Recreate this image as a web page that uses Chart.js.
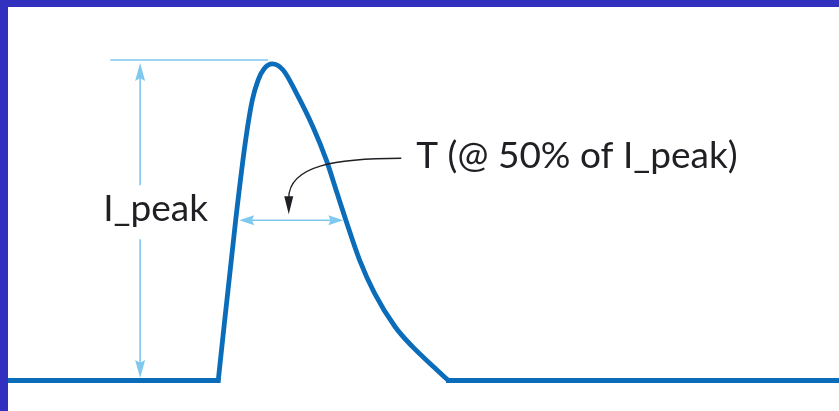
<!DOCTYPE html>
<html>
<head>
<meta charset="utf-8">
<script src="https://cdn.jsdelivr.net/npm/chart.js@4/dist/chart.umd.min.js"></script>
<style>
  html, body { margin: 0; padding: 0; background: #fff; }
  #frame { width: 831px; height: 404px; border-left: 8px solid #3230be; border-top: 7px solid #3230be; }
  canvas { display: block; }
</style>
</head>
<body>
<div id="frame"><canvas id="pulse_chart" width="831" height="404"></canvas></div>
<script>
// pulse shape, time in % of window, current in % of I_peak
const pulseT = [25.3, 27.4, 28.6, 29.4, 30.1, 30.8, 31.8, 33.1, 34.7, 36.7, 38.3, 39.6, 40.65, 42.3, 44.1, 46.6, 48.7, 51.1, 53.0];
const pulseI = [0, 50.7, 76.0, 88.6, 94.9, 98.4, 100, 98.1, 90.8, 80.1, 69.7, 59.2, 50.7, 38.1, 27.6, 16.9, 10.6, 4.6, 0];
const preT = [0, 25.3];
const postT = [53.0, 100];
const baseI = [0, 0];

// annotation values
const peakLevel = 100;
const halfT = [27.4, 40.65];
const labels = ['I_peak', 'T (@ 50% of I_peak)'];

const BLUE = '#0b6db9';
const LIGHT = '#7fc8ee';
const INK = '#1f1f24';

const toPoints = (xs, ys) => xs.map((t, i) => ({ x: t, y: ys[i] }));

const head = (ctx, x, y, angle, len, wid) => {
  ctx.save();
  ctx.translate(x, y);
  ctx.rotate(angle);
  ctx.beginPath();
  ctx.moveTo(0, 0);
  ctx.lineTo(-len, wid / 2);
  ctx.lineTo(-len * 0.85, 0);
  ctx.lineTo(-len, -wid / 2);
  ctx.closePath();
  ctx.fill();
  ctx.restore();
};

const annotations = {
  id: 'annotations',
  afterDatasetsDraw(chart) {
    const { ctx, scales: { x, y } } = chart;
    const yPeak = y.getPixelForValue(peakLevel);
    const yBase = y.getPixelForValue(0);
    const yHalf = y.getPixelForValue(peakLevel / 2) - 2;
    const xDim = x.getPixelForValue(15.9);
    const xL = x.getPixelForValue(halfT[0]) + 3.5;
    const xR = x.getPixelForValue(halfT[1]) - 2.5;

    ctx.save();
    ctx.strokeStyle = LIGHT;
    ctx.fillStyle = LIGHT;
    ctx.lineWidth = 1.6;

    // I_peak extension line + dimension arrow
    ctx.beginPath();
    ctx.moveTo(x.getPixelForValue(12.3), yPeak - 4);
    ctx.lineTo(x.getPixelForValue(31.3), yPeak - 4);
    ctx.moveTo(xDim, yPeak + 10);
    ctx.lineTo(xDim, yHalf - 35);
    ctx.moveTo(xDim, yHalf + 19);
    ctx.lineTo(xDim, yBase - 12);
    ctx.stroke();
    head(ctx, xDim, yPeak - 1, -Math.PI / 2, 18, 10);
    head(ctx, xDim, yBase - 2.5, Math.PI / 2, 18, 10);

    // T width arrow
    ctx.beginPath();
    ctx.moveTo(xL + 8, yHalf);
    ctx.lineTo(xR - 8, yHalf);
    ctx.stroke();
    head(ctx, xL, yHalf, Math.PI, 15, 10);
    head(ctx, xR, yHalf, 0, 15, 10);

    // pointer to T arrow
    const tipX = (xL + xR) / 2 - 2.5;
    const tipY = yHalf - 6;
    const sx = xR + 58;
    const sy = yHalf - 62;
    ctx.strokeStyle = INK;
    ctx.fillStyle = INK;
    ctx.lineWidth = 1.3;
    ctx.beginPath();
    ctx.moveTo(sx, sy);
    ctx.bezierCurveTo(sx - 64, sy, tipX, sy + 7, tipX, tipY - 16);
    ctx.stroke();
    ctx.beginPath();
    ctx.moveTo(tipX, tipY);
    ctx.lineTo(tipX - 4.5, tipY - 18);
    ctx.lineTo(tipX + 4.5, tipY - 18);
    ctx.closePath();
    ctx.fill();

    // labels
    ctx.font = '37px Lato';
    ctx.textBaseline = 'alphabetic';
    ctx.textAlign = 'left';
    ctx.fillText(labels[0], xDim - 37, yHalf + 1);
    ctx.fillText(labels[1], xR + 73, yHalf - 52);
    ctx.restore();
  },
};

const lineStyle = { borderColor: BLUE, borderWidth: 4.8, pointRadius: 0, fill: false };

new Chart(document.getElementById('pulse_chart'), {
  type: 'line',
  data: {
    datasets: [
      { ...lineStyle, label: 'baseline', data: toPoints(preT, baseI), borderCapStyle: 'square' },
      { ...lineStyle, label: 'pulse', data: toPoints(pulseT, pulseI), cubicInterpolationMode: 'monotone' },
      { ...lineStyle, label: 'baseline', data: toPoints(postT, baseI), borderCapStyle: 'square' },
    ],
  },
  options: {
    responsive: false,
    animation: false,
    layout: { padding: 0 },
    scales: {
      x: { type: 'linear', min: 0, max: 100, display: false },
      y: { min: -9.64, max: 118, display: false },
    },
    plugins: { legend: { display: false }, tooltip: { enabled: false } },
  },
  plugins: [annotations],
});
</script>
</body>
</html>
